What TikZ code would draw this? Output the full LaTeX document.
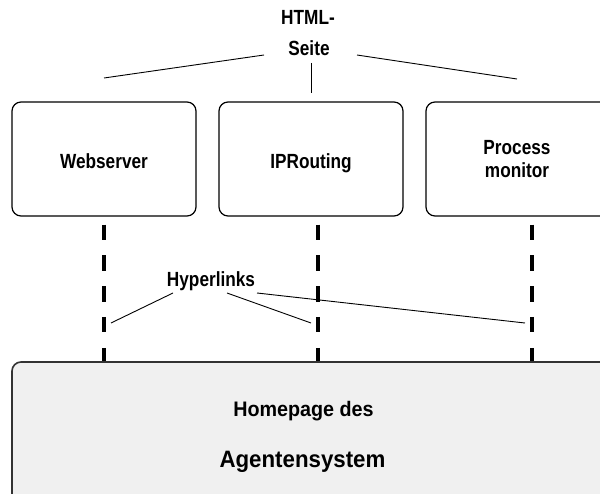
\documentclass[tikz,border=0pt]{standalone}
\usepackage{fontspec}
\newfontfamily\lblfont[FakeStretch=0.84]{Liberation Sans}
\newfontfamily\homefont[FakeStretch=0.94]{Liberation Sans}
\begin{document}
\begin{tikzpicture}[x=1pt,y=-1pt,
  box/.style={draw=black, line width=1.2pt, rounded corners=9pt,
    minimum width=184pt, minimum height=114pt, inner sep=0pt},
  homebox/.style={draw=black!80, line width=1.6pt, fill=black!6,
    rounded corners=9pt, minimum width=608pt, minimum height=150pt, inner sep=0pt},
  lbl/.style={font=\lblfont\bfseries\fontsize{20.5}{24}\selectfont, inner sep=0pt, anchor=base},
  thin/.style={line width=0.9pt},
  link/.style={line width=4pt, dash pattern=on 15.5pt off 15.3pt, dash phase=22.8pt}
]
\useasboundingbox (0,0) rectangle (600,494);
\clip (0,0) rectangle (600,494);

% component boxes
\node[box] (ws) at (104,159) {};
\node[box] (ip) at (311,159) {};
\node[box] (pm) at (518,159) {};
\node[lbl] (wsl) at (104,169) {Webserver};
\node[lbl] (ipl) at (311,169) {IPRouting};
\node[lbl] (pml1) at (517,155) {Process};
\node[lbl] (pml2) at (517,178) {monitor};

% homepage box
\node[homebox] (home) at (316,437) {};
\node[lbl, font=\homefont\bfseries\fontsize{21}{26}\selectfont] (homel1) at (303.5,416) {Homepage des};
\node[lbl, font=\homefont\bfseries\fontsize{23.7}{30}\selectfont] (homel2) at (302.5,467) {Agentensystem};

% dashed hyperlink connections
\draw[link] (ws.south) -- (ws.south |- home.north);
\draw[link] (ip.south) ++(7,0) coordinate (ipd) -- (ipd |- home.north);
\draw[link] (pm.south) ++(14,0) coordinate (pmd) -- (pmd |- home.north);

% HTML page label
\node[lbl] (html1) at (308,25) {HTML-};
\node[lbl] (html2) at (309,56) {Seite};
\coordinate (hL0) at (264,55);
\coordinate (hL1) at (104,78);
\coordinate (hR0) at (357,55);
\coordinate (hR1) at (517,79);
\coordinate (hM0) at (311,63);
\coordinate (hM1) at (311,93);
\draw[thin] (hL0) -- (hL1);
\draw[thin] (hR0) -- (hR1);
\draw[thin] (hM0) -- (hM1);

% hyperlink label
\node[lbl] (hyp) at (211,287) {Hyperlinks};
\coordinate (y1a) at (173,293);
\coordinate (y1b) at (111,323);
\coordinate (y2a) at (227,293);
\coordinate (y2b) at (311,323);
\coordinate (y3a) at (257,293);
\coordinate (y3b) at (525,323);
\draw[thin] (y1a) -- (y1b);
\draw[thin] (y2a) -- (y2b);
\draw[thin] (y3a) -- (y3b);
\end{tikzpicture}
\end{document}
